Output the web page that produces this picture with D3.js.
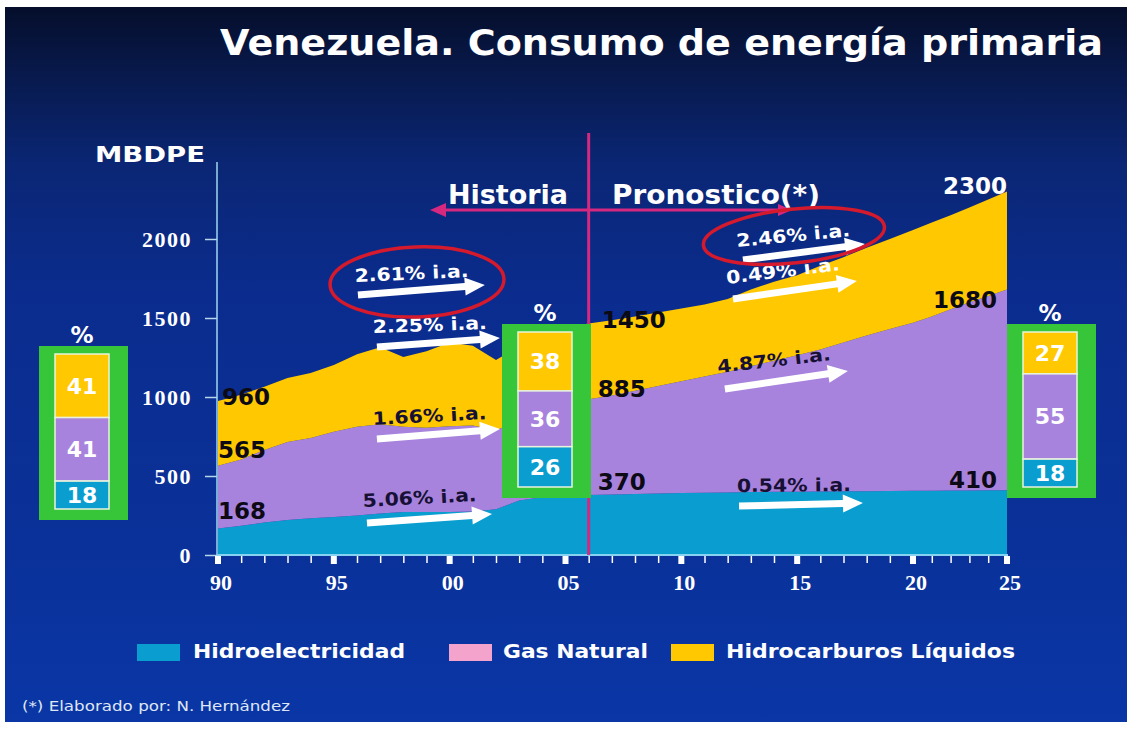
<!DOCTYPE html>
<html><head><meta charset="utf-8">
<script src="https://cdn.jsdelivr.net/npm/d3@7"></script>
<style>html,body{margin:0;padding:0;background:#fff;}svg{display:block;}</style>
</head><body>
<svg id="c" width="1127" height="729"></svg>
<script>
// ---------------- DATA ----------------
const years = [1990,1991,1992,1993,1994,1995,1996,1997,1998,1999,2000,2001,2002,2003,2004,2005,2006,2007,2008,2009,2010,2011,2012,2013,2014,2015,2016,2017,2018,2019,2020,2021,2022,2023,2024,2025];
const hidroelectricidad = [168,185,205,222,232,240,250,262,272,272,272,275,290,345,365,368,380,383,386,389,392,394,396,398,400,401,402,403,404,405,406,407,408,409,410,410];
const gasNatural = [397,420,460,493,509,540,562,566,540,533,543,545,500,505,545,587,605,627,654,681,708,736,764,797,830,864,898,942,986,1025,1064,1103,1147,1191,1230,1270];
const hidrocarburosLiquidos = [410,410,400,405,411,423,458,487,441,485,530,505,444,470,490,485,480,475,470,465,460,455,460,485,500,505,530,540,555,570,587,595,595,600,610,620];
const seriesNames = ["Hidroelectricidad","Gas Natural","Hidrocarburos Líquidos"];
const yTickValues = [0,500,1000,1500,2000];
const xMajorTicks = [1990,1995,2000,2005,2010,2015,2020,2025];
const xTickLabels = ["90","95","00","05","10","15","20","25"];
const dividerYear = 2006;
// value labels: [year, value, text]
const valueLabels = [
  [1990, 960, "960"], [1990, 565, "565"], [1990, 168, "168"],
  [2006, 1450, "1450"], [2006, 885, "885"], [2006, 370, "370"],
  [2025, 2300, "2300"], [2025, 1680, "1680"], [2025, 410, "410"]
];
// share boxes (% Hidro, Gas, Líquidos)
const shareBoxYears = ["1990","2005","2025"];
const shareHidro = [18,26,18];
const shareGas = [41,36,55];
const shareLiquidos = [41,38,27];
// growth annotations: text, rates
const growthTexts = ["2.61% i.a.","2.25% i.a.","1.66% i.a.","5.06% i.a.","2.46% i.a.","0.49% i.a.","4.87% i.a.","0.54% i.a."];
// anchor positions in data units [year, value] for text, arrow start, arrow end
const growthTextPos = [[1995.91,1728],[1996.69,1405],[1996.69,823],[1996.26,304],[2012.40,1949],[2011.97,1715],[2011.58,1152],[2012.40,399]];
const growthArrowFrom = [[1996.04,1646],[1996.86,1316],[1996.86,734],[1996.43,203],[2012.66,1867],[2012.23,1620],[2011.88,1051],[2012.49,310]];
const growthArrowTo = [[2001.52,1709],[2002.17,1373],[2002.17,797],[2001.83,259],[2017.93,1968],[2017.58,1734],[2017.19,1165],[2017.84,329]];
const highlighted = [[1998.59,1728],[2014.86,2019]];

// ---------------- STYLE ----------------
const colors = {hidro:"#0a9dcf", gas:"#a883dd", liq:"#ffc800", gasLegend:"#f4a3cc",
  green:"#37c53a", pink:"#d6287f", red:"#d41a2c", dark:"#161034"};
const svg = d3.select("#c");
const W = 1127, H = 729;

const defs = svg.append("defs");
const grad = defs.append("linearGradient").attr("id","bg").attr("x1",0).attr("y1",0).attr("x2",0).attr("y2",1);
[[0,"#050e2b"],[0.1,"#081a4e"],[0.22,"#0a2674"],[0.4,"#0b2c8e"],[0.75,"#0a3199"],[1,"#0a36a6"]].forEach(s=>grad.append("stop").attr("offset",s[0]).attr("stop-color",s[1]));
svg.append("rect").attr("x",5).attr("y",7).attr("width",W-5).attr("height",715).attr("fill","url(#bg)");

const bold = "'DejaVu Sans', Verdana, sans-serif";
const serif = "'Liberation Serif', 'Times New Roman', serif";

// title
svg.append("text").attr("x",220).attr("y",55).attr("fill","#fff").attr("font-family",bold).attr("font-weight","bold")
  .attr("font-size",36).attr("textLength",883).attr("lengthAdjust","spacingAndGlyphs").text("Venezuela. Consumo de energía primaria");

// scales
const x = d3.scaleLinear().domain([1990,2020,2025]).range([218,913,1007]);
const y = d3.scaleLinear().domain([0,2000]).range([555,239]);

// stacked areas
const table = years.map((yr,i)=>({year:yr, hidro:hidroelectricidad[i], gas:gasNatural[i], liq:hidrocarburosLiquidos[i]}));
const stack = d3.stack().keys(["hidro","gas","liq"])(table);
const area = d3.area().x(d=>x(d.data.year)).y0(d=>y(d[0])).y1(d=>y(d[1]));
const fills = [colors.hidro, colors.gas, colors.liq];
svg.append("g").selectAll("path").data(stack).join("path").attr("d",area).attr("fill",(d,i)=>fills[i]);

// axes
const yAxis = svg.append("g").attr("transform","translate(217,0)").call(d3.axisLeft(y).tickValues(yTickValues).tickSize(12).tickFormat(d3.format("d")));
yAxis.select(".domain").remove();
yAxis.selectAll(".tick line").attr("stroke","#b8d6ea").attr("stroke-width",1.5);
yAxis.selectAll(".tick text").attr("fill","#fff").attr("font-family",serif).attr("font-weight","bold").attr("font-size",22)
  .attr("letter-spacing",1.5).attr("x",-25).attr("dy","0.32em");
svg.append("line").attr("x1",217).attr("x2",217).attr("y1",162).attr("y2",556).attr("stroke","#9fd8f0").attr("stroke-width",1.5);

const minorYears = years.filter(v=>!xMajorTicks.includes(v));
const xAxis = svg.append("g").attr("transform","translate(0,555)").call(d3.axisBottom(x).tickValues(minorYears).tickSize(8).tickFormat(""));
xAxis.select(".domain").remove();
xAxis.selectAll(".tick line").attr("stroke","#fff").attr("stroke-width",1.5);
svg.append("line").attr("x1",217).attr("x2",1008).attr("y1",555).attr("y2",555).attr("stroke","#86d2f0").attr("stroke-width",2);
const majors = svg.append("g");
majors.selectAll("rect").data(xMajorTicks).join("rect").attr("x",d=>x(d)-3).attr("y",556).attr("width",6).attr("height",8).attr("fill","#fff");
majors.selectAll("text").data(xMajorTicks).join("text").attr("x",d=>x(d)+3).attr("y",590).attr("text-anchor","middle")
  .attr("fill","#fff").attr("font-family",serif).attr("font-weight","bold").attr("font-size",22).text((d,i)=>xTickLabels[i]);

// unit
svg.append("text").attr("x",95).attr("y",162).attr("fill","#fff").attr("font-family",bold).attr("font-weight","bold")
  .attr("font-size",22).attr("textLength",110).attr("lengthAdjust","spacingAndGlyphs").text("MBDPE");

// divider
const xd = x(dividerYear);
svg.append("line").attr("x1",xd).attr("x2",xd).attr("y1",133).attr("y2",555).attr("stroke",colors.pink).attr("stroke-width",3);
svg.append("line").attr("x1",440).attr("x2",782).attr("y1",210).attr("y2",210).attr("stroke",colors.pink).attr("stroke-width",3);
svg.append("path").attr("d","M430,210 L446,203 L446,217 Z").attr("fill",colors.pink);
svg.append("path").attr("d","M792,210 L778,204 L778,216 Z").attr("fill",colors.pink);
svg.append("text").attr("x",448).attr("y",204).attr("fill","#fff").attr("font-family",bold).attr("font-weight","bold")
  .attr("font-size",26).attr("textLength",120).attr("lengthAdjust","spacingAndGlyphs").text("Historia");
svg.append("text").attr("x",612).attr("y",204).attr("fill","#fff").attr("font-family",bold).attr("font-weight","bold")
  .attr("font-size",26).attr("textLength",208).attr("lengthAdjust","spacingAndGlyphs").text("Pronostico(*)");

// value labels
const vlStyle = {
  "960":[4,2,"start","#0c0a14"],"565":[0,-8,"start","#0c0a14"],"168":[0,-9,"start","#0c0a14"],
  "1450":[13,2,"start","#0c0a14"],"885":[9,-18,"start","#0c0a14"],"370":[9,-7,"start","#0c0a14"],
  "2300":[0,2,"end","#fff"],"1680":[-10,18,"end","#0c0a14"],"410":[-10,-2,"end","#0c0a14"]};
svg.append("g").selectAll("text").data(valueLabels).join("text")
  .attr("x",d=>x(d[0])+vlStyle[d[2]][0]).attr("y",d=>y(d[1])+vlStyle[d[2]][1])
  .attr("text-anchor",d=>vlStyle[d[2]][2]).attr("fill",d=>vlStyle[d[2]][3])
  .attr("font-family",bold).attr("font-weight","bold").attr("font-size",23).text(d=>d[2]);

// growth annotations
const textColors = ["#fff","#fff",colors.dark,colors.dark,"#fff","#fff",colors.dark,colors.dark];
const rot = [-2.5,-2,-3,-3,-5.5,-7,-6.5,-0.5];
const ga = svg.append("g");
function arrowPath(x1,y1,x2,y2){
  const dx=x2-x1, dy=y2-y1, L=Math.hypot(dx,dy), ux=dx/L, uy=dy/L, nx=-uy, ny=ux;
  const sw=3.5, hl=20, hw=9;
  const bx=x2-ux*hl, by=y2-uy*hl;
  const p=[[x1+nx*sw,y1+ny*sw],[bx+nx*sw,by+ny*sw],[bx+nx*hw,by+ny*hw],[x2,y2],[bx-nx*hw,by-ny*hw],[bx-nx*sw,by-ny*sw],[x1-nx*sw,y1-ny*sw]];
  return "M"+p.map(q=>q.join(",")).join("L")+"Z";
}
growthTexts.forEach((t,i)=>{
  const f=growthArrowFrom[i], to=growthArrowTo[i];
  ga.append("path").attr("d",arrowPath(x(f[0]),y(f[1]),x(to[0]),y(to[1]))).attr("fill","#fff");
  const tx=x(growthTextPos[i][0]), ty=y(growthTextPos[i][1]);
  ga.append("text").attr("x",tx).attr("y",ty).attr("transform",`rotate(${rot[i]},${tx},${ty})`)
    .attr("fill",textColors[i]).attr("font-family",bold).attr("font-weight","bold").attr("font-size",18)
    .attr("textLength",114).attr("lengthAdjust","spacingAndGlyphs").text(t);
});
const ellSize = [[87,35,-2],[91,27,-6]];
highlighted.forEach((c,i)=>{
  const cx=x(c[0]), cy=y(c[1]);
  svg.append("ellipse").attr("cx",cx).attr("cy",cy).attr("rx",ellSize[i][0]).attr("ry",ellSize[i][1])
    .attr("transform",`rotate(${ellSize[i][2]},${cx},${cy})`).attr("fill","none").attr("stroke",colors.red).attr("stroke-width",3.5);
});

// share boxes
const boxPos = [[39,346],[502,324],[1007,324]];
const hScale = d3.scaleLinear().domain([0,100]).range([0,155]);
shareBoxYears.forEach((b,i)=>{
  const [gx,gy]=boxPos[i];
  const g = svg.append("g");
  g.append("rect").attr("x",gx).attr("y",gy).attr("width",89).attr("height",174).attr("fill",colors.green);
  const ix=gx+16, iw=54;
  let cy=gy+8;
  const segs=[[shareLiquidos[i],colors.liq],[shareGas[i],colors.gas],[shareHidro[i],colors.hidro]];
  segs.forEach(s=>{
    const h=hScale(s[0]);
    g.append("rect").attr("x",ix).attr("y",cy).attr("width",iw).attr("height",h).attr("fill",s[1]).attr("stroke","#e9f3dc").attr("stroke-width",1.5);
    g.append("text").attr("x",ix+iw/2).attr("y",cy+h/2+8).attr("text-anchor","middle").attr("fill","#fff")
      .attr("font-family",bold).attr("font-weight","bold").attr("font-size",22).text(s[0]);
    cy+=h;
  });
  g.append("text").attr("x",ix+iw/2).attr("y",gy-3).attr("text-anchor","middle").attr("fill","#fff")
    .attr("font-family",bold).attr("font-weight","bold").attr("font-size",23).text("%");
});

// legend
const legX = [137,449,671], legTX=[193,503,726], legW=[212,145,289];
const legC = [colors.hidro, colors.gasLegend, colors.liq];
seriesNames.forEach((n,i)=>{
  svg.append("rect").attr("x",legX[i]).attr("y",644).attr("width",43).attr("height",17).attr("fill",legC[i]);
  svg.append("text").attr("x",legTX[i]).attr("y",658).attr("fill","#fff").attr("font-family",bold).attr("font-weight","bold")
    .attr("font-size",19).attr("textLength",legW[i]).attr("lengthAdjust","spacingAndGlyphs").text(n);
});
svg.append("text").attr("x",22).attr("y",711).attr("fill","#dfe6f5").attr("font-family",bold).attr("font-size",13.5)
  .attr("textLength",268).attr("lengthAdjust","spacingAndGlyphs").text("(*) Elaborado por: N. Hernández");
</script>
</body></html>
